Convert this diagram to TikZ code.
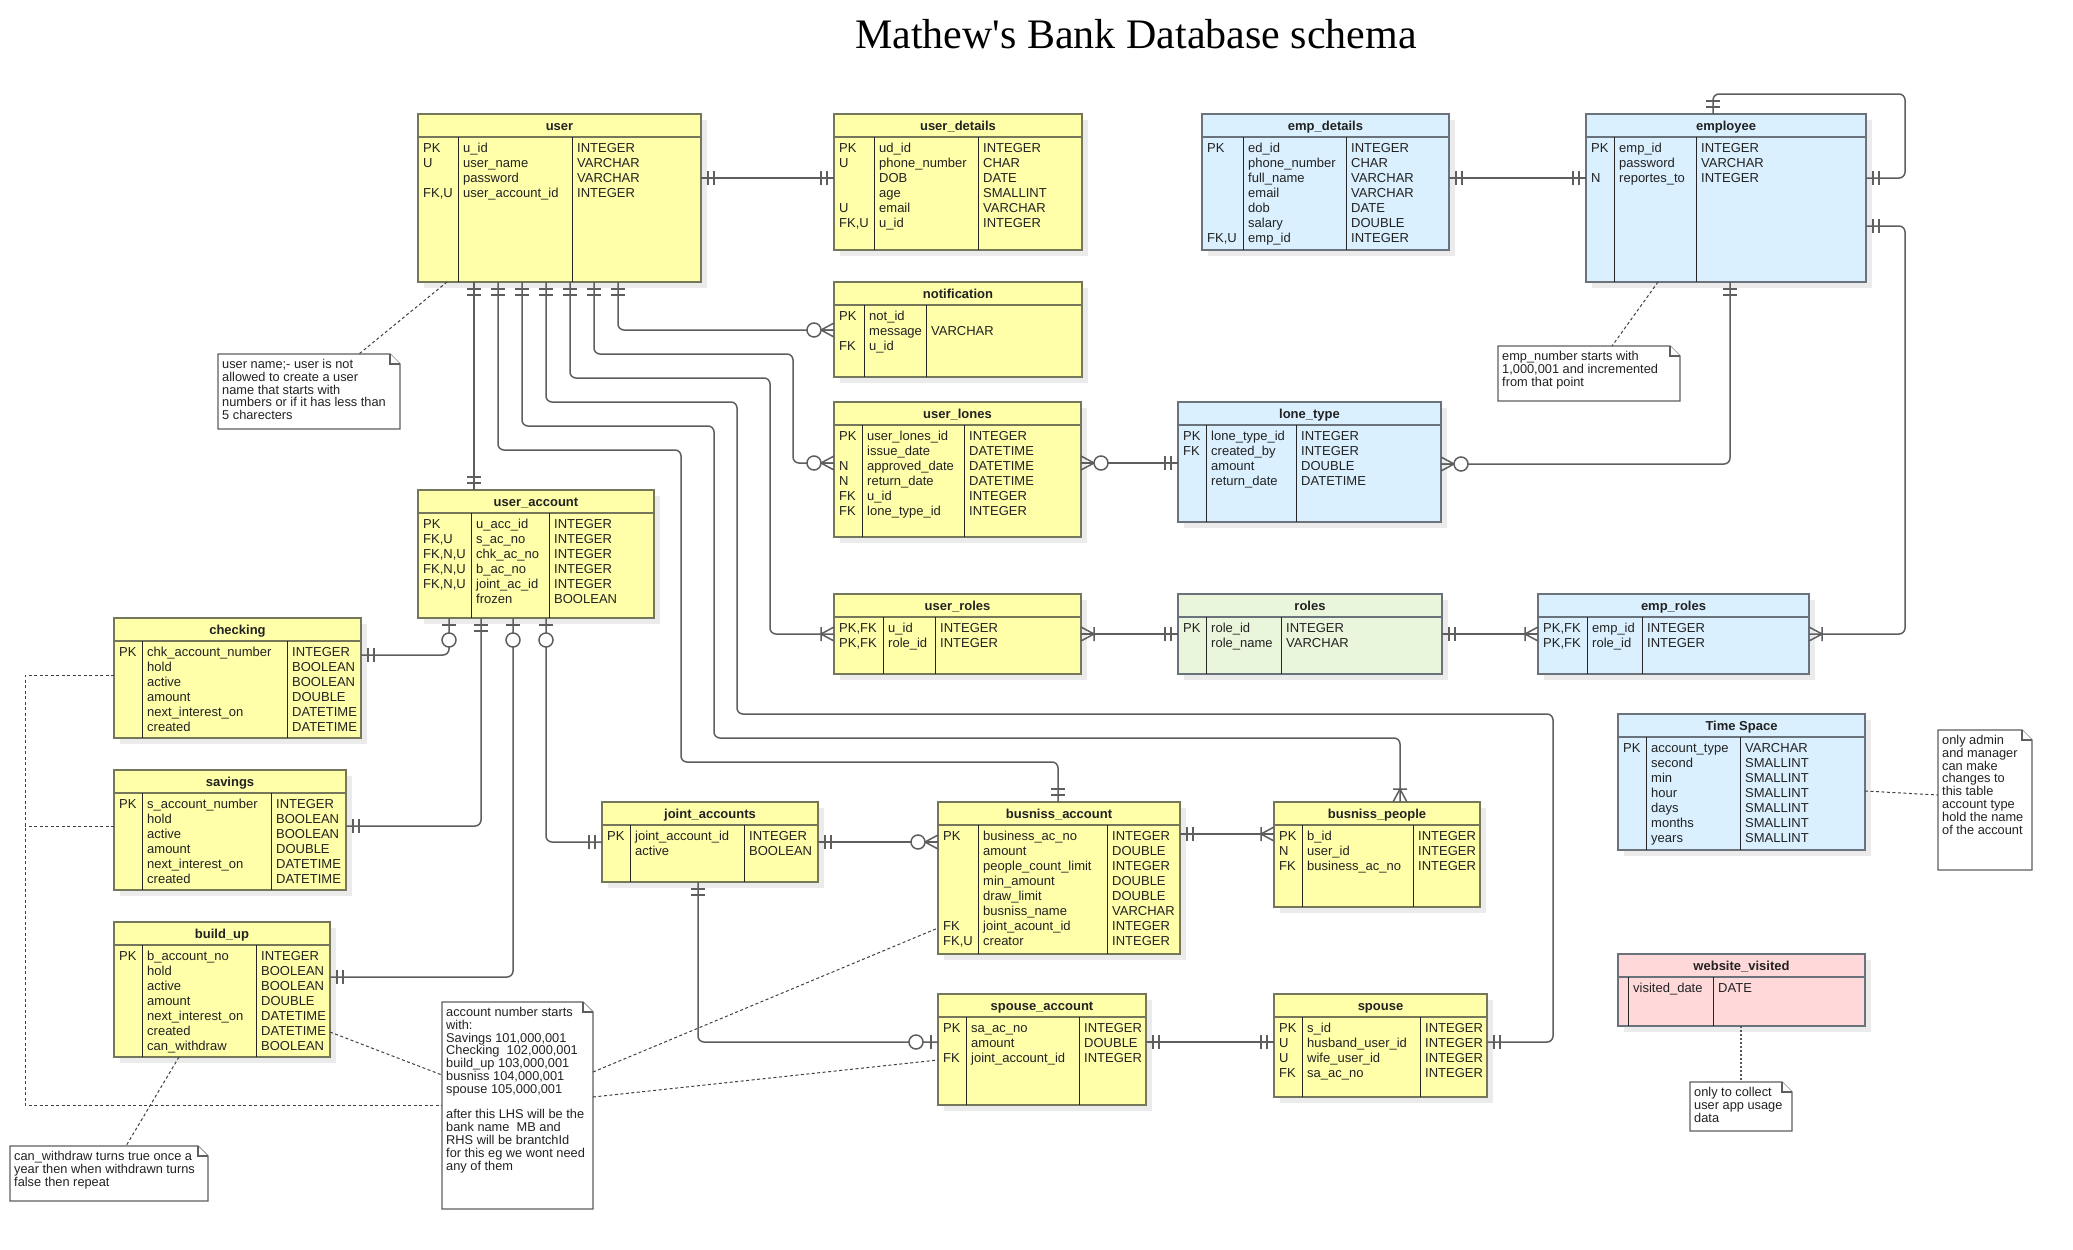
\documentclass[tikz,border=0pt]{standalone}
\usepackage{fontspec}
\setmainfont{Liberation Sans}
\newfontfamily\titlefont{Liberation Serif}
\usetikzlibrary{fit}
\definecolor{yfill}{HTML}{FFFFAA}
\definecolor{yline}{HTML}{76765A}
\definecolor{bfill}{HTML}{DAF0FF}
\definecolor{bline}{HTML}{6A737B}
\definecolor{gfill}{HTML}{EAF6DB}
\definecolor{pfill}{HTML}{FFD9D9}
\definecolor{cline}{HTML}{5E5E5E}
\definecolor{shad}{HTML}{EBEBEB}
\definecolor{txt}{HTML}{222222}
\newcommand\ertable[9]{%
  \fill[shad] (#3+6,#4+6) rectangle (#5+6,#6+6);
  \node[fit={(#3,#4) (#5,#6)}, inner sep=0pt, outer sep=0pt, #2] (#1) {};
  \draw[#2] (#3,#4+23) -- (#5,#4+23);
  \draw[divline] (#7,#4+23) -- (#7,#6) (#8,#4+23) -- (#8,#6);
  \node[hdr] at ({(#3+#5)/2},#4+16) {#9};
  \def\tx{#3}\def\ty{#4}\def\ca{#7}\def\cb{#8}}
\newcommand\ertrows[1]{%
  \foreach \ka/\kb/\kc [count=\ri from 0] in {#1}{%
    \node[rowt] at (\tx+5,\ty+38+15*\ri) {\ka};
    \node[rowt] at (\ca+5,\ty+38+15*\ri) {\kb};
    \node[rowt] at (\cb+5,\ty+38+15*\ri) {\kc};}}
\newcommand\ernote[6]{%
  \node[fit={(#2,#3) (#4,#5)}, inner sep=0pt, outer sep=0pt] (#1) {};
  \draw[notebox] (#1.north west) -- ([xshift=-10pt]#1.north east) -- ([yshift=-10pt]#1.north east) -- (#1.south east) -- (#1.south west) -- cycle;
  \draw[notebox] ([xshift=-10pt]#1.north east) -- ([xshift=-10pt,yshift=-10pt]#1.north east) -- ([yshift=-10pt]#1.north east);
  \node[notetext] at (#2+4,#3+5) {#6};}
\newcommand\mk[3]{\pic[rotate=#2] at #1 {#3};}
\begin{document}
\begin{tikzpicture}[x=1pt,y=-1pt,
  ytab/.style={draw=yline, fill=yfill, line width=1.5pt},
  btab/.style={draw=bline, fill=bfill, line width=1.5pt},
  gtab/.style={draw=bline, fill=gfill, line width=1.5pt},
  ptab/.style={draw=bline, fill=pfill, line width=1.5pt},
  divline/.style={draw=black!85, line width=0.9pt},
  hdr/.style={anchor=base, inner sep=0pt, text=txt, font=\bfseries\fontsize{13}{15}\selectfont},
  rowt/.style={anchor=base west, inner sep=0pt, text=txt, font=\fontsize{13}{15}\selectfont},
  notebox/.style={draw=cline, fill=white, line width=1.3pt, line join=miter},
  notetext/.style={anchor=north west, align=left, inner sep=0pt, text=txt, font=\fontsize{12.8}{12.8}\selectfont},
  conn/.style={draw=cline, line width=1.5pt, rounded corners=6pt},
  notelink/.style={draw=black!75, line width=1pt, dash pattern=on 3pt off 2.5pt},
  notedot/.style={draw=black!65, line width=1.5pt, dash pattern=on 2pt off 2pt},
  mone/.pic={\draw[conn] (7,-7)--(7,7) (13,-7)--(13,7);},
  zmany/.pic={\draw[conn,rounded corners=0pt] (0,-7)--(13,0)--(0,7) (0,0)--(13,0); \draw[conn,fill=white] (20,0) circle[radius=7];},
  omany/.pic={\draw[conn,rounded corners=0pt] (0,-7)--(13,0)--(0,7) (13,-7)--(13,7);},
  zone/.pic={\draw[conn] (7,-7)--(7,7); \draw[conn,fill=white] (22,0) circle[radius=7];}]
\useasboundingbox (0,0) rectangle (2073,1250);
\node[anchor=base, text=black, font=\titlefont\fontsize{42}{50}\selectfont] (title) at (1136,48) {Mathew's Bank Database schema};

% ---------- tables ----------
\ertable{user}{ytab}{418}{114}{701}{282}{458}{572}{user}
\ertrows{PK/u\_id/INTEGER, U/user\_name/VARCHAR, {}/password/VARCHAR, {FK,U}/user\_account\_id/INTEGER}
\ertable{udet}{ytab}{834}{114}{1082}{250}{874}{978}{user\_details}
\ertrows{PK/ud\_id/INTEGER, U/phone\_number/CHAR, {}/DOB/DATE, {}/age/SMALLINT, U/email/VARCHAR, {FK,U}/u\_id/INTEGER}
\ertable{notif}{ytab}{834}{282}{1082}{377}{864}{926}{notification}
\ertrows{PK/not\_id/{}, {}/message/VARCHAR, FK/u\_id/{}}
\ertable{ulones}{ytab}{834}{402}{1081}{537}{862}{964}{user\_lones}
\ertrows{PK/user\_lones\_id/INTEGER, {}/issue\_date/DATETIME, N/approved\_date/DATETIME, N/return\_date/DATETIME, FK/u\_id/INTEGER, FK/lone\_type\_id/INTEGER}
\ertable{ltype}{btab}{1178}{402}{1441}{522}{1206}{1296}{lone\_type}
\ertrows{PK/lone\_type\_id/INTEGER, FK/created\_by/INTEGER, {}/amount/DOUBLE, {}/return\_date/DATETIME}
\ertable{uroles}{ytab}{834}{594}{1081}{674}{883}{935}{user\_roles}
\ertrows{{PK,FK}/u\_id/INTEGER, {PK,FK}/role\_id/INTEGER}
\ertable{roles}{gtab}{1178}{594}{1442}{674}{1206}{1281}{roles}
\ertrows{PK/role\_id/INTEGER, {}/role\_name/VARCHAR}
\ertable{empd}{btab}{1202}{114}{1449}{250}{1243}{1346}{emp\_details}
\ertrows{PK/ed\_id/INTEGER, {}/phone\_number/CHAR, {}/full\_name/VARCHAR, {}/email/VARCHAR, {}/dob/DATE, {}/salary/DOUBLE, {FK,U}/emp\_id/INTEGER}
\ertable{emp}{btab}{1586}{114}{1866}{282}{1614}{1696}{employee}
\ertrows{PK/emp\_id/INTEGER, {}/password/VARCHAR, N/reportes\_to/INTEGER}
\ertable{eroles}{btab}{1538}{594}{1809}{674}{1587}{1642}{emp\_roles}
\ertrows{{PK,FK}/emp\_id/INTEGER, {PK,FK}/role\_id/INTEGER}
\ertable{tspace}{btab}{1618}{714}{1865}{850}{1646}{1740}{Time Space}
\ertrows{PK/account\_type/VARCHAR, {}/second/SMALLINT, {}/min/SMALLINT, {}/hour/SMALLINT, {}/days/SMALLINT, {}/months/SMALLINT, {}/years/SMALLINT}
\ertable{webv}{ptab}{1618}{954}{1865}{1026}{1628}{1713}{website\_visited}
\ertrows{{}/visited\_date/DATE}
\ertable{chk}{ytab}{114}{618}{361}{738}{142}{287}{checking}
\ertrows{PK/chk\_account\_number/INTEGER, {}/hold/BOOLEAN, {}/active/BOOLEAN, {}/amount/DOUBLE, {}/next\_interest\_on/DATETIME, {}/created/DATETIME}
\ertable{sav}{ytab}{114}{770}{346}{890}{142}{271}{savings}
\ertrows{PK/s\_account\_number/INTEGER, {}/hold/BOOLEAN, {}/active/BOOLEAN, {}/amount/DOUBLE, {}/next\_interest\_on/DATETIME, {}/created/DATETIME}
\ertable{bup}{ytab}{114}{922}{330}{1057}{142}{256}{build\_up}
\ertrows{PK/b\_account\_no/INTEGER, {}/hold/BOOLEAN, {}/active/BOOLEAN, {}/amount/DOUBLE, {}/next\_interest\_on/DATETIME, {}/created/DATETIME, {}/can\_withdraw/BOOLEAN}
\ertable{uacc}{ytab}{418}{490}{654}{618}{471}{549}{user\_account}
\ertrows{PK/u\_acc\_id/INTEGER, {FK,U}/s\_ac\_no/INTEGER, {FK,N,U}/chk\_ac\_no/INTEGER, {FK,N,U}/b\_ac\_no/INTEGER, {FK,N,U}/joint\_ac\_id/INTEGER, {}/frozen/BOOLEAN}
\ertable{joint}{ytab}{602}{802}{818}{882}{630}{744}{joint\_accounts}
\ertrows{PK/joint\_account\_id/INTEGER, {}/active/BOOLEAN}
\ertable{bacc}{ytab}{938}{802}{1180}{954}{978}{1107}{busniss\_account}
\ertrows{PK/business\_ac\_no/INTEGER, {}/amount/DOUBLE, {}/people\_count\_limit/INTEGER, {}/min\_amount/DOUBLE, {}/draw\_limit/DOUBLE, {}/busniss\_name/VARCHAR, FK/joint\_acount\_id/INTEGER, {FK,U}/creator/INTEGER}
\ertable{bpeople}{ytab}{1274}{802}{1480}{907}{1302}{1413}{busniss\_people}
\ertrows{PK/b\_id/INTEGER, N/user\_id/INTEGER, FK/business\_ac\_no/INTEGER}
\ertable{sacc}{ytab}{938}{994}{1146}{1105}{966}{1079}{spouse\_account}
\ertrows{PK/sa\_ac\_no/INTEGER, {}/amount/DOUBLE, FK/joint\_account\_id/INTEGER}
\ertable{spouse}{ytab}{1274}{994}{1487}{1097}{1302}{1420}{spouse}
\ertrows{PK/s\_id/INTEGER, U/husband\_user\_id/INTEGER, U/wife\_user\_id/INTEGER, FK/sa\_ac\_no/INTEGER}

% ---------- notes ----------
\ernote{n1}{218}{354}{400}{429}{user name;- user is not\\allowed to create a user\\name that starts with\\numbers or if it has less than\\5 charecters}
\ernote{n4}{1498}{346}{1680}{401}{emp\_number starts with\\1,000,001 and incremented\\from that point}
\ernote{n5}{1938}{730}{2032}{870}{only admin\\and manager\\can make\\changes to\\this table\\account type\\hold the name\\of the account}
\ernote{n6}{1690}{1082}{1792}{1131}{only to collect\\user app usage\\data}
\ernote{n2}{442}{1002}{593}{1209}{account number starts\\with:\\Savings 101,000,001\\Checking\ \ 102,000,001\\build\_up 103,000,001\\busniss 104,000,001\\spouse 105,000,001\\[12.8pt]after this LHS will be the\\bank name\ \ MB and\\RHS will be brantchId\\for this eg we wont need\\any of them}
\ernote{n3}{10}{1146}{208}{1201}{can\_withdraw turns true once a\\year then when withdrawn turns\\false then repeat}

% ---------- relationships ----------
\draw[conn] (user.east |- 0,178) -- (udet.west |- 0,178);
\mk{(user.east |- 0,178)}{0}{mone} \mk{(udet.west |- 0,178)}{180}{mone}
\draw[conn] (empd.east |- 0,178) -- (emp.west |- 0,178);
\mk{(empd.east |- 0,178)}{0}{mone} \mk{(emp.west |- 0,178)}{180}{mone}
\draw[conn] (emp.north -| 1713,0) -- (1713,94) -- (1905,94) -- (1905,178) -- (emp.east |- 0,178);
\mk{(emp.north -| 1713,0)}{90}{mone} \mk{(emp.east |- 0,178)}{0}{mone}
\draw[conn] (emp.east |- 0,226) -- (1905,226) -- (1905,634) -- (eroles.east |- 0,634);
\mk{(emp.east |- 0,226)}{0}{mone} \mk{(eroles.east |- 0,634)}{0}{omany}
\draw[conn] (emp.south -| 1730,0) -- (1730,464) -- (ltype.east |- 0,464);
\mk{(emp.south -| 1730,0)}{-90}{mone} \mk{(ltype.east |- 0,464)}{0}{zmany}
\draw[conn] (ulones.east |- 0,463) -- (ltype.west |- 0,463);
\mk{(ulones.east |- 0,463)}{0}{zmany} \mk{(ltype.west |- 0,463)}{180}{mone}
\draw[conn] (uroles.east |- 0,634) -- (roles.west |- 0,634);
\mk{(uroles.east |- 0,634)}{0}{omany} \mk{(roles.west |- 0,634)}{180}{mone}
\draw[conn] (roles.east |- 0,634) -- (eroles.west |- 0,634);
\mk{(roles.east |- 0,634)}{0}{mone} \mk{(eroles.west |- 0,634)}{180}{omany}
\draw[conn] (user.south -| 618,0) -- (618,330) -- (notif.west |- 0,330);
\mk{(user.south -| 618,0)}{-90}{mone} \mk{(notif.west |- 0,330)}{180}{zmany}
\draw[conn] (user.south -| 594,0) -- (594,354) -- (793,354) -- (793,463) -- (ulones.west |- 0,463);
\mk{(user.south -| 594,0)}{-90}{mone} \mk{(ulones.west |- 0,463)}{180}{zmany}
\draw[conn] (user.south -| 570,0) -- (570,378) -- (770,378) -- (770,634) -- (uroles.west |- 0,634);
\mk{(user.south -| 570,0)}{-90}{mone} \mk{(uroles.west |- 0,634)}{180}{omany}
\draw[conn] (user.south -| 546,0) -- (546,402) -- (737,402) -- (737,714) -- (1553,714) -- (1553,1042) -- (spouse.east |- 0,1042);
\mk{(user.south -| 546,0)}{-90}{mone} \mk{(spouse.east |- 0,1042)}{0}{mone}
\draw[conn] (user.south -| 522,0) -- (522,426) -- (714,426) -- (714,738) -- (1400,738) -- (bpeople.north -| 1400,0);
\mk{(user.south -| 522,0)}{-90}{mone} \mk{(bpeople.north -| 1400,0)}{90}{omany}
\draw[conn] (user.south -| 498,0) -- (498,450) -- (681,450) -- (681,762) -- (1058,762) -- (bacc.north -| 1058,0);
\mk{(user.south -| 498,0)}{-90}{mone} \mk{(bacc.north -| 1058,0)}{90}{mone}
\draw[conn] (user.south -| 474,0) -- (uacc.north -| 474,0);
\mk{(user.south -| 474,0)}{-90}{mone} \mk{(uacc.north -| 474,0)}{90}{mone}
\draw[conn] (uacc.south -| 449,0) -- (449,655) -- (chk.east |- 0,655);
\mk{(uacc.south -| 449,0)}{-90}{zone} \mk{(chk.east |- 0,655)}{0}{mone}
\draw[conn] (uacc.south -| 481,0) -- (481,826) -- (sav.east |- 0,826);
\mk{(uacc.south -| 481,0)}{-90}{mone} \mk{(sav.east |- 0,826)}{0}{mone}
\draw[conn] (uacc.south -| 513,0) -- (513,977) -- (bup.east |- 0,977);
\mk{(uacc.south -| 513,0)}{-90}{zone} \mk{(bup.east |- 0,977)}{0}{mone}
\draw[conn] (uacc.south -| 546,0) -- (546,842) -- (joint.west |- 0,842);
\mk{(uacc.south -| 546,0)}{-90}{zone} \mk{(joint.west |- 0,842)}{180}{mone}
\draw[conn] (joint.east |- 0,842) -- (bacc.west |- 0,842);
\mk{(joint.east |- 0,842)}{0}{mone} \mk{(bacc.west |- 0,842)}{180}{zmany}
\draw[conn] (joint.south -| 698,0) -- (698,1042) -- (sacc.west |- 0,1042);
\mk{(joint.south -| 698,0)}{-90}{mone} \mk{(sacc.west |- 0,1042)}{180}{zone}
\draw[conn] (sacc.east |- 0,1042) -- (spouse.west |- 0,1042);
\mk{(sacc.east |- 0,1042)}{0}{mone} \mk{(spouse.west |- 0,1042)}{180}{mone}
\draw[conn] (bacc.east |- 0,834) -- (bpeople.west |- 0,834);
\mk{(bacc.east |- 0,834)}{0}{mone} \mk{(bpeople.west |- 0,834)}{180}{omany}

% ---------- note links ----------
\draw[notelink] (user.south -| 447,0) -- (n1.north -| 359,0);
\draw[notelink] (emp.south -| 1658,0) -- (n4.north -| 1612,0);
\draw[notelink] (tspace.east |- 0,791) -- (n5.west |- 0,795);
\draw[notedot] (webv.south -| 1741,0) -- (n6.north -| 1741,0);
\draw[notelink] (bup.east |- 0,1032) -- (n2.west |- 0,1075);
\draw[notelink] (n2.east |- 0,1072) -- (bacc.west |- 0,928);
\draw[notelink] (n2.east |- 0,1097) -- (sacc.west |- 0,1060);
\draw[notelink] (bup.south -| 179,0) -- (n3.north -| 126,0);
\draw[notelink] (chk.west |- 0,675) -- (25,675) -- (25,1105) -- (n2.west |- 0,1105);
\draw[notelink] (sav.west |- 0,826) -- (25,826);
\end{tikzpicture}
\end{document}
